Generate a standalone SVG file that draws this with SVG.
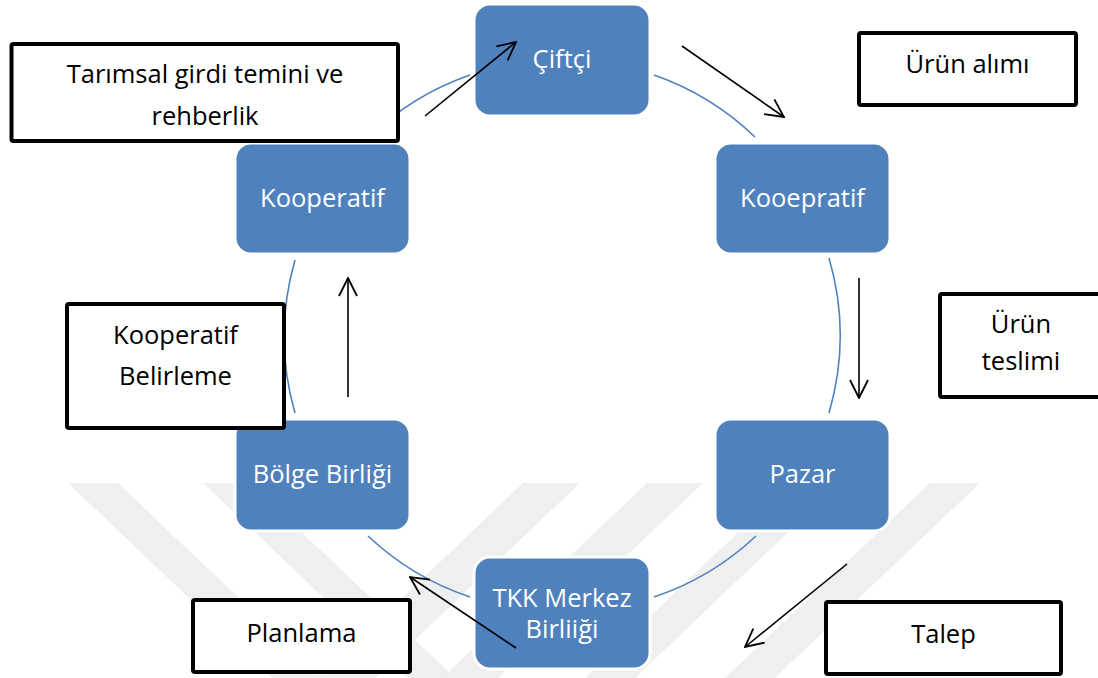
<svg xmlns="http://www.w3.org/2000/svg" width="1098" height="678" viewBox="0 0 1098 678">
  <defs>
    <style>
      .wm { fill: #efefef; }
      .node rect { fill: #4f81bd; stroke: #ffffff; stroke-width: 3; }
      .node text { fill: #ffffff; font-family: "Open Sans", "Noto Sans", sans-serif; font-size: 25.5px; text-anchor: middle; }
      .label rect { fill: #ffffff; stroke: #000000; stroke-width: 4; }
      .label text { fill: #000000; font-family: "Open Sans", "Noto Sans", sans-serif; font-size: 25.5px; text-anchor: middle; }
      .arc { fill: none; stroke: #4f81bd; stroke-width: 1.6; }
      .arrow { fill: none; stroke: #000000; stroke-width: 1.6; marker-end: url(#head); }
    </style>
    <marker id="head" viewBox="0 0 20 20" refX="19" refY="10" markerWidth="20" markerHeight="20" markerUnits="userSpaceOnUse" orient="auto">
      <path d="M1,1 L19,10 L1,19" fill="none" stroke="#000000" stroke-width="1.8"/>
    </marker>
  </defs>
  <rect x="0" y="0" width="1098" height="678" fill="#ffffff"/>

  <g id="watermark">
    <polygon class="wm" points="68,483 118,483 323,678 273,678"/>
    <polygon class="wm" points="203,483 250,483 455,678 408,678"/>
    <polygon class="wm" points="523,483 580,483 375,678 318,678"/>
    <polygon class="wm" points="647,483 703,483 498,678 442,678"/>
    <polygon class="wm" points="790,483 840,483 635,678 585,678"/>
    <polygon class="wm" points="930,483 980,483 775,678 725,678"/>
  </g>

  <g id="node-ciftci" class="node">
    <rect x="474" y="4" width="176" height="112" rx="16"/>
    <text x="562" y="68">Çiftçi</text>
  </g>
  <g id="node-kooepratif" class="node">
    <rect x="715" y="143" width="175" height="111" rx="16"/>
    <text x="802.5" y="207">Kooepratif</text>
  </g>
  <g id="node-pazar" class="node">
    <rect x="715" y="419" width="175" height="112" rx="16"/>
    <text x="802.5" y="483">Pazar</text>
  </g>
  <g id="node-tkk" class="node">
    <rect x="474" y="557" width="176" height="112" rx="16"/>
    <text x="562" y="607">TKK Merkez</text>
    <text x="562" y="638">Birliiği</text>
  </g>
  <g id="node-bolge" class="node">
    <rect x="235" y="419" width="175" height="112" rx="16"/>
    <text x="322.5" y="483">Bölge Birliği</text>
  </g>
  <g id="node-kooperatif" class="node">
    <rect x="235" y="143" width="175" height="111" rx="16"/>
    <text x="322.5" y="207">Kooperatif</text>
  </g>

  <g id="connectors">
    <path class="arc" d="M369,137 A277,277 0 0 1 470,75"/>
    <path class="arc" d="M654,75 A277,277 0 0 1 755,137"/>
    <path class="arc" d="M829,258 A277,277 0 0 1 829,413"/>
    <path class="arc" d="M756,536 A277,277 0 0 1 654,597"/>
    <path class="arc" d="M470,597 A277,277 0 0 1 368,536"/>
    <path class="arc" d="M295,413 A277,277 0 0 1 295,260"/>
    <line class="arrow" x1="425" y1="116" x2="516" y2="42"/>
    <line class="arrow" x1="682" y1="46" x2="784" y2="117"/>
    <line class="arrow" x1="859" y1="278" x2="859" y2="398"/>
    <line class="arrow" x1="847" y1="564" x2="745" y2="647"/>
    <line class="arrow" x1="516" y1="648" x2="410" y2="577"/>
    <line class="arrow" x1="348" y1="397" x2="348" y2="278"/>
  </g>

  <g id="label-tarimsal" class="label">
    <rect x="11.5" y="44" width="386.5" height="97" rx="2"/>
    <text x="205" y="83">Tarımsal girdi temini ve</text>
    <text x="205" y="125">rehberlik</text>
  </g>
  <g id="label-urun-alimi" class="label">
    <rect x="859" y="33" width="217" height="72" rx="2"/>
    <text x="967.5" y="73">Ürün alımı</text>
  </g>
  <g id="label-urun-teslimi" class="label">
    <rect x="940" y="294" width="164" height="103" rx="2"/>
    <text x="1021" y="333">Ürün</text>
    <text x="1021" y="370">teslimi</text>
  </g>
  <g id="label-kooperatif-belirleme" class="label">
    <rect x="67" y="304" width="217" height="124" rx="2"/>
    <text x="175.5" y="344">Kooperatif</text>
    <text x="175.5" y="385">Belirleme</text>
  </g>
  <g id="label-planlama" class="label">
    <rect x="193" y="600" width="217" height="72" rx="2"/>
    <text x="301.5" y="642">Planlama</text>
  </g>
  <g id="label-talep" class="label">
    <rect x="826" y="602" width="235" height="72" rx="2"/>
    <text x="943.5" y="643">Talep</text>
  </g>
</svg>
